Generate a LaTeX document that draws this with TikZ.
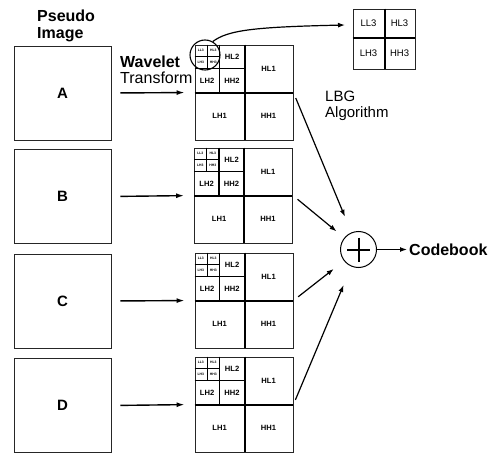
\documentclass[tikz,border=0pt]{standalone}
\usepackage{fontspec}
\setmainfont{Liberation Sans}
\usetikzlibrary{arrows.meta,calc}
\newcommand\fsz[2]{\fontsize{#1}{#2}\selectfont}
\newcommand\subbands[1]{%
 \begin{scope}[shift={(#1.north west)}]
  \draw[thickline] (50,0) -- (50,95);
  \draw[thickline] (0,48) -- (98,48);
  \draw[midline] (25,0) -- (25,48);
  \draw[midline] (0,24) -- (50,24);
  \draw[thinline] (12.5,0) -- (12.5,24);
  \draw[thinline] (0,12) -- (25,12);
  \node[lab] (#1hl1) at (74,24) {HL1};
  \node[lab] (#1lh1) at (25,71.5) {LH1};
  \node[lab] (#1hh1) at (74,71.5) {HH1};
  \node[lab] (#1hl2) at (37.5,12) {HL2};
  \node[lab] (#1lh2) at (12.5,36) {LH2};
  \node[lab] (#1hh2) at (37.5,36) {HH2};
  \node[tinylab] (#1ll3) at (6.3,6) {LL3};
  \node[tinylab] (#1hl3) at (18.8,6) {HL3};
  \node[tinylab] (#1lh3) at (6.3,18) {LH3};
  \node[tinylab] (#1hh3) at (18.8,18) {HH3};
 \end{scope}}
\begin{document}
\begin{tikzpicture}[x=1pt,y=-1pt,
 imgbox/.style={draw=black!85,line width=0.9pt,minimum width=97pt,minimum height=94pt,inner sep=0pt,font=\fsz{15}{15}\bfseries},
 gridbox/.style={draw=black!85,line width=0.9pt,minimum width=98pt,minimum height=95pt,inner sep=0pt},
 thickline/.style={line width=2pt},
 midline/.style={line width=1.4pt},
 thinline/.style={line width=0.9pt},
 lab/.style={font=\fsz{7.6}{7.6}\bfseries,inner sep=0pt},
 tinylab/.style={font=\fsz{3.4}{3.4}\bfseries,inner sep=0pt},
 arr/.style={-{Latex[length=8pt,width=5pt]},line width=1.4pt},
 arrb/.style={-{Latex[length=7pt,width=5pt]},line width=1.2pt},
]
\useasboundingbox (0,0) rectangle (502,454);

% titles
\node[font=\fsz{16}{17}\bfseries,align=left,anchor=north west,inner sep=0pt] (title) at (37,9.4) {Pseudo\\Image};
\node[font=\fsz{16}{16}\bfseries,anchor=north west,inner sep=0pt] (wav) at (120,55.4) {Wavelet};
\node[font=\fsz{16}{16},anchor=north west,inner sep=0pt] (trf) at (120,71.4) {Transform};
\node[font=\fsz{15}{16},align=left,anchor=north west,inner sep=0pt] (lbg) at (325,91) {LBG\\Algorithm};

% pseudo images
\node[imgbox] (A) at (62.5,93) {A};
\node[imgbox] (B) at (62.5,196.5) {B};
\node[imgbox] (C) at (62.5,301) {C};
\node[imgbox] (D) at (62.5,405.5) {D};

% wavelet grids
\node[gridbox] (gA) at (244,92.5) {};
\node[gridbox] (gB) at (243.5,195.5) {};
\node[gridbox] (gC) at (244,300.5) {};
\node[gridbox] (gD) at (244,404.5) {};
\subbands{gA}
\subbands{gB}
\subbands{gC}
\subbands{gD}

% arrows image -> grid
\draw[arr,shorten <=9pt,shorten >=10pt] (A.east) -- (gA.west);
\draw[arr,shorten <=9pt,shorten >=10pt] (B.east) -- (gB.west);
\draw[arr,shorten <=9pt,shorten >=10pt] (C.east) -- (gC.west);
\draw[arr,shorten <=9pt,shorten >=10pt] (D.east) -- (gD.west);

% zoom circle and enlarged LL3 block
\node[draw,circle,minimum size=30pt,line width=1.1pt,inner sep=0pt] (zc) at (205,55) {};
\node[gridbox,minimum width=62pt,minimum height=60pt] (lg) at (384,39) {};
\begin{scope}[shift={(lg.north west)}]
 \draw[thickline] (32,0) -- (32,60);
 \draw[thickline] (0,29) -- (62,29);
 \node[font=\fsz{9.5}{9.5},inner sep=0pt] (lgll) at (16,15) {LL3};
 \node[font=\fsz{9.5}{9.5},inner sep=0pt] (lghl) at (47,15) {HL3};
 \node[font=\fsz{9.5}{9.5},inner sep=0pt] (lglh) at (16,45) {LH3};
 \node[font=\fsz{9.5}{9.5},inner sep=0pt] (lghh) at (47,45) {HH3};
\end{scope}
\coordinate (ct) at (345,25);
\draw[arrb] (zc.60) .. controls (228,30) and (255,27) .. (ct);

% summation
\node[draw,circle,minimum size=36pt,line width=1pt,inner sep=0pt] (plus) at (358.5,249.5) {};
\draw[line width=2pt] ($(plus.center)+(-11.5,0)$) -- ($(plus.center)+(11.5,0)$);
\draw[line width=2pt] ($(plus.center)+(0,-12)$) -- ($(plus.center)+(0,12)$);
\draw[arrb,shorten <=6pt,shorten >=17pt] (gA.east) -- (plus);
\draw[arrb,shorten <=6pt,shorten >=10pt] (gB.east) -- (plus);
\draw[arrb,shorten <=6pt,shorten >=13pt] (gC.east) -- (plus);
\draw[arrb,shorten <=5pt,shorten >=20pt] (gD.east) -- (plus);

\node[font=\fsz{16}{16}\bfseries,anchor=west,inner sep=0pt] (cb) at (409,249.5) {Codebook};
\draw[arrb,shorten >=2pt] (plus.east) -- (cb.west);
\end{tikzpicture}
\end{document}
